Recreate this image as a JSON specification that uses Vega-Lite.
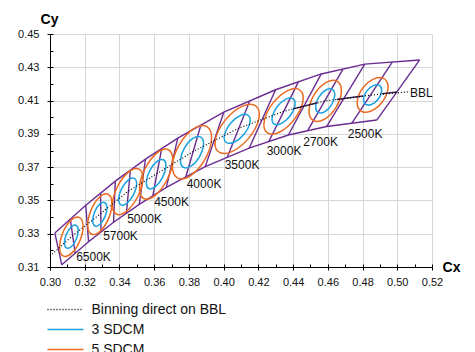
{
  "$schema": "https://vega.github.io/schema/vega-lite/v6.json",
  "width": 382,
  "height": 233,
  "autosize": {"type": "none"},
  "padding": {"left": 50, "top": 34, "right": 43, "bottom": 85},
  "background": "white",
  "config": {
    "view": {"stroke": null},
    "font": "Liberation Sans",
    "axis": {"labelFont": "Liberation Sans", "titleFont": "Liberation Sans"}
  },
  "datasets": {
    "quads": [
      {"s": "top", "i": 0, "x": 0.3028, "y": 0.3304}, {"s": "top", "i": 1, "x": 0.3206, "y": 0.3471}, {"s": "top", "i": 2, "x": 0.3376, "y": 0.3616}, {"s": "top", "i": 3, "x": 0.3550, "y": 0.3748}, {"s": "top", "i": 4, "x": 0.3736, "y": 0.3874},
      {"s": "top", "i": 5, "x": 0.4001, "y": 0.4030}, {"s": "top", "i": 6, "x": 0.4299, "y": 0.4165}, {"s": "top", "i": 7, "x": 0.4562, "y": 0.4260}, {"s": "top", "i": 8, "x": 0.4813, "y": 0.4319}, {"s": "top", "i": 9, "x": 0.5129, "y": 0.4344},
      {"s": "bot", "i": 0, "x": 0.3068, "y": 0.3113}, {"s": "bot", "i": 1, "x": 0.3222, "y": 0.3252}, {"s": "bot", "i": 2, "x": 0.3366, "y": 0.3369}, {"s": "bot", "i": 3, "x": 0.3514, "y": 0.3476}, {"s": "bot", "i": 4, "x": 0.3670, "y": 0.3578},
      {"s": "bot", "i": 5, "x": 0.3894, "y": 0.3703}, {"s": "bot", "i": 6, "x": 0.4147, "y": 0.3814}, {"s": "bot", "i": 7, "x": 0.4373, "y": 0.3893}, {"s": "bot", "i": 8, "x": 0.4593, "y": 0.3944}, {"s": "bot", "i": 9, "x": 0.4882, "y": 0.3983},
      {"s": "e0", "i": 0, "x": 0.3028, "y": 0.3304}, {"s": "e0", "i": 1, "x": 0.3068, "y": 0.3113},
      {"s": "e1", "i": 0, "x": 0.3206, "y": 0.3471}, {"s": "e1", "i": 1, "x": 0.3222, "y": 0.3252},
      {"s": "e2", "i": 0, "x": 0.3376, "y": 0.3616}, {"s": "e2", "i": 1, "x": 0.3366, "y": 0.3369},
      {"s": "e3", "i": 0, "x": 0.3550, "y": 0.3748}, {"s": "e3", "i": 1, "x": 0.3514, "y": 0.3476},
      {"s": "e4", "i": 0, "x": 0.3736, "y": 0.3874}, {"s": "e4", "i": 1, "x": 0.3670, "y": 0.3578},
      {"s": "e5", "i": 0, "x": 0.4001, "y": 0.4030}, {"s": "e5", "i": 1, "x": 0.3894, "y": 0.3703},
      {"s": "e6", "i": 0, "x": 0.4299, "y": 0.4165}, {"s": "e6", "i": 1, "x": 0.4147, "y": 0.3814},
      {"s": "e7", "i": 0, "x": 0.4562, "y": 0.4260}, {"s": "e7", "i": 1, "x": 0.4373, "y": 0.3893},
      {"s": "e8", "i": 0, "x": 0.4813, "y": 0.4319}, {"s": "e8", "i": 1, "x": 0.4593, "y": 0.3944},
      {"s": "e9", "i": 0, "x": 0.5129, "y": 0.4344}, {"s": "e9", "i": 1, "x": 0.4882, "y": 0.3983},
      {"s": "c0", "i": 0, "x": 0.3117, "y": 0.33875}, {"s": "c0", "i": 1, "x": 0.3145, "y": 0.31825},
      {"s": "c1", "i": 0, "x": 0.3291, "y": 0.35435}, {"s": "c1", "i": 1, "x": 0.3294, "y": 0.33105},
      {"s": "c2", "i": 0, "x": 0.3463, "y": 0.3682}, {"s": "c2", "i": 1, "x": 0.3440, "y": 0.34225},
      {"s": "c3", "i": 0, "x": 0.3643, "y": 0.3811}, {"s": "c3", "i": 1, "x": 0.3592, "y": 0.3527},
      {"s": "c4", "i": 0, "x": 0.38685, "y": 0.3952}, {"s": "c4", "i": 1, "x": 0.3782, "y": 0.36405},
      {"s": "c5", "i": 0, "x": 0.4150, "y": 0.40975}, {"s": "c5", "i": 1, "x": 0.40205, "y": 0.37585},
      {"s": "c6", "i": 0, "x": 0.44305, "y": 0.42125}, {"s": "c6", "i": 1, "x": 0.4260, "y": 0.38535},
      {"s": "c7", "i": 0, "x": 0.46875, "y": 0.42895}, {"s": "c7", "i": 1, "x": 0.4483, "y": 0.39185},
      {"s": "c8", "i": 0, "x": 0.4971, "y": 0.43315}, {"s": "c8", "i": 1, "x": 0.47375, "y": 0.39635}
    ],
    "ellipses": [
      {"cct": "6500K", "series": "3 SDCM", "x": 0.3123, "y": 0.3282, "a": 0.00724, "theta": 68, "ab": "0.45"},
      {"cct": "6500K", "series": "5 SDCM", "x": 0.3123, "y": 0.3282, "a": 0.0123, "theta": 68, "ab": "0.45"},
      {"cct": "5700K", "series": "3 SDCM", "x": 0.3287, "y": 0.3417, "a": 0.00747, "theta": 68, "ab": "0.45"},
      {"cct": "5700K", "series": "5 SDCM", "x": 0.3287, "y": 0.3417, "a": 0.0127, "theta": 68, "ab": "0.45"},
      {"cct": "5000K", "series": "3 SDCM", "x": 0.3447, "y": 0.3553, "a": 0.00871, "theta": 63, "ab": "0.45"},
      {"cct": "5000K", "series": "5 SDCM", "x": 0.3447, "y": 0.3553, "a": 0.0148, "theta": 63, "ab": "0.45"},
      {"cct": "4500K", "series": "3 SDCM", "x": 0.3611, "y": 0.3658, "a": 0.00947, "theta": 63, "ab": "0.45"},
      {"cct": "4500K", "series": "5 SDCM", "x": 0.3611, "y": 0.3658, "a": 0.0161, "theta": 63, "ab": "0.45"},
      {"cct": "4000K", "series": "3 SDCM", "x": 0.3818, "y": 0.3790, "a": 0.01024, "theta": 60, "ab": "0.50"},
      {"cct": "4000K", "series": "5 SDCM", "x": 0.3818, "y": 0.3790, "a": 0.0174, "theta": 60, "ab": "0.50"},
      {"cct": "3500K", "series": "3 SDCM", "x": 0.4078, "y": 0.3930, "a": 0.01024, "theta": 50, "ab": "0.50"},
      {"cct": "3500K", "series": "5 SDCM", "x": 0.4078, "y": 0.3930, "a": 0.0174, "theta": 50, "ab": "0.50"},
      {"cct": "3000K", "series": "3 SDCM", "x": 0.4345, "y": 0.4035, "a": 0.00929, "theta": 52, "ab": "0.50"},
      {"cct": "3000K", "series": "5 SDCM", "x": 0.4345, "y": 0.4035, "a": 0.0158, "theta": 52, "ab": "0.50"},
      {"cct": "2700K", "series": "3 SDCM", "x": 0.4585, "y": 0.4098, "a": 0.00794, "theta": 58, "ab": "0.55"},
      {"cct": "2700K", "series": "5 SDCM", "x": 0.4585, "y": 0.4098, "a": 0.0135, "theta": 58, "ab": "0.55"},
      {"cct": "2500K", "series": "3 SDCM", "x": 0.4858, "y": 0.4134, "a": 0.00688, "theta": 52, "ab": "0.60"},
      {"cct": "2500K", "series": "5 SDCM", "x": 0.4858, "y": 0.4134, "a": 0.0117, "theta": 52, "ab": "0.60"}
    ],
    "bbl": [
      {"series": "Binning direct on BBL", "i": 0, "x": 0.3000, "y": 0.3165},
      {"series": "Binning direct on BBL", "i": 1, "x": 0.3123, "y": 0.3282},
      {"series": "Binning direct on BBL", "i": 2, "x": 0.3287, "y": 0.3417},
      {"series": "Binning direct on BBL", "i": 3, "x": 0.3447, "y": 0.3553},
      {"series": "Binning direct on BBL", "i": 4, "x": 0.3611, "y": 0.3658},
      {"series": "Binning direct on BBL", "i": 5, "x": 0.3818, "y": 0.3790},
      {"series": "Binning direct on BBL", "i": 6, "x": 0.4078, "y": 0.3930},
      {"series": "Binning direct on BBL", "i": 7, "x": 0.4345, "y": 0.4035},
      {"series": "Binning direct on BBL", "i": 8, "x": 0.4585, "y": 0.4098},
      {"series": "Binning direct on BBL", "i": 9, "x": 0.4858, "y": 0.4134},
      {"series": "Binning direct on BBL", "i": 10, "x": 0.5074, "y": 0.4153}
    ],
    "solid": [
      {"s": "a", "i": 0, "x": 0.4400, "y": 0.4050}, {"s": "a", "i": 1, "x": 0.4540, "y": 0.4087},
      {"s": "b", "i": 0, "x": 0.4652, "y": 0.4107}, {"s": "b", "i": 1, "x": 0.4803, "y": 0.4127},
      {"s": "c", "i": 0, "x": 0.4912, "y": 0.4141}, {"s": "c", "i": 1, "x": 0.4999, "y": 0.4151}
    ],
    "labels": [
      {"label": "6500K", "x": 0.32506, "y": 0.3160},
      {"label": "5700K", "x": 0.34061, "y": 0.32876},
      {"label": "5000K", "x": 0.35444, "y": 0.33869},
      {"label": "4500K", "x": 0.36999, "y": 0.34892},
      {"label": "4000K", "x": 0.38871, "y": 0.36005},
      {"label": "3500K", "x": 0.4106, "y": 0.37148},
      {"label": "3000K", "x": 0.43479, "y": 0.3796},
      {"label": "2700K", "x": 0.45582, "y": 0.38532},
      {"label": "2500K", "x": 0.48145, "y": 0.39013}
    ],
    "bblLabel": [
      {"label": "BBL", "x": 0.50737, "y": 0.4148}
    ]
  },
  "layer": [
    {
      "data": {"name": "quads"},
      "mark": {"type": "line", "color": "#6b2c91", "strokeWidth": 1.4},
      "encoding": {
        "x": {"field": "x", "type": "quantitative", "scale": {"domain": [0.30, 0.52], "nice": false, "zero": false},
          "axis": {"title": "Cx", "values": [0.30, 0.32, 0.34, 0.36, 0.38, 0.40, 0.42, 0.44, 0.46, 0.48, 0.50, 0.52], "format": ".2f",
            "labelFlush": false, "labelOverlap": false,
            "tickSize": 3, "tickColor": "#000", "domainColor": "#000", "grid": true, "gridColor": "#d6d6d6",
            "labelFontSize": 11, "labelPadding": 6, "labelColor": "#111", "titleFontSize": 14, "titleFontWeight": "bold", "titleColor": "#000",
            "titleX": 401, "titleY": 0, "titleAlign": "center", "titleBaseline": "middle", "titleAngle": 0}},
        "y": {"field": "y", "type": "quantitative", "scale": {"domain": [0.31, 0.45], "nice": false, "zero": false},
          "axis": {"title": "Cy", "values": [0.31, 0.33, 0.35, 0.37, 0.39, 0.41, 0.43, 0.45], "format": ".2f",
            "labelFlush": false, "labelOverlap": false,
            "tickSize": 3, "tickColor": "#000", "domainColor": "#000", "grid": true, "gridColor": "#d6d6d6",
            "labelFontSize": 11, "labelPadding": 8, "labelColor": "#111", "titleFontSize": 14, "titleFontWeight": "bold", "titleColor": "#000",
            "titleX": -1, "titleY": -15, "titleAlign": "center", "titleBaseline": "middle", "titleAngle": 0}},
        "detail": {"field": "s", "type": "nominal"},
        "order": {"field": "i", "type": "quantitative"}
      }
    },
    {
      "data": {"name": "ellipses"},
      "mark": {"type": "point", "filled": false, "strokeWidth": 1.5, "opacity": 1},
      "encoding": {
        "x": {"field": "x", "type": "quantitative", "scale": {"domain": [0.30, 0.52], "nice": false, "zero": false},
          "axis": {"orient": "bottom", "values": [0.30, 0.31, 0.32, 0.33, 0.34, 0.35, 0.36, 0.37, 0.38, 0.39, 0.40, 0.41, 0.42, 0.43, 0.44, 0.45, 0.46, 0.47, 0.48, 0.49, 0.50, 0.51, 0.52],
            "tickSize": -3, "tickColor": "#000", "labels": false, "domain": false, "grid": false, "title": null}},
        "y": {"field": "y", "type": "quantitative", "scale": {"domain": [0.31, 0.45], "nice": false, "zero": false},
          "axis": {"orient": "left", "values": [0.31, 0.32, 0.33, 0.34, 0.35, 0.36, 0.37, 0.38, 0.39, 0.40, 0.41, 0.42, 0.43, 0.44, 0.45],
            "tickSize": -3, "tickColor": "#000", "labels": false, "domain": false, "grid": false, "title": null}},
        "stroke": {"field": "series", "type": "nominal", "scale": {"domain": ["3 SDCM", "5 SDCM"], "range": ["#1aa3e0", "#ea6a1f"]}, "legend": null},
        "size": {"field": "a", "type": "quantitative", "scale": {"type": "pow", "exponent": 2, "domain": [0, 0.02], "range": [0, 4624]}, "legend": null},
        "angle": {"field": "theta", "type": "quantitative", "scale": {"domain": [0, 90], "range": [360, 270]}},
        "shape": {"field": "ab", "type": "nominal", "legend": null, "scale": {"domain": ["0.45", "0.50", "0.55", "0.60"], "range": [
          "M1,0C1,0.2485 0.5523,0.45 0,0.45C-0.5523,0.45 -1,0.2485 -1,0C-1,-0.2485 -0.5523,-0.45 0,-0.45C0.5523,-0.45 1,-0.2485 1,0Z",
          "M1,0C1,0.2762 0.5523,0.5 0,0.5C-0.5523,0.5 -1,0.2762 -1,0C-1,-0.2762 -0.5523,-0.5 0,-0.5C0.5523,-0.5 1,-0.2762 1,0Z",
          "M1,0C1,0.3038 0.5523,0.55 0,0.55C-0.5523,0.55 -1,0.3038 -1,0C-1,-0.3038 -0.5523,-0.55 0,-0.55C0.5523,-0.55 1,-0.3038 1,0Z",
          "M1,0C1,0.3314 0.5523,0.6 0,0.6C-0.5523,0.6 -1,0.3314 -1,0C-1,-0.3314 -0.5523,-0.6 0,-0.6C0.5523,-0.6 1,-0.3314 1,0Z"]}}
      }
    },
    {
      "data": {"name": "solid"},
      "mark": {"type": "line", "color": "#3b2352", "strokeWidth": 1.5},
      "encoding": {
        "x": {"field": "x", "type": "quantitative", "scale": {"domain": [0.30, 0.52], "nice": false, "zero": false}, "axis": null},
        "y": {"field": "y", "type": "quantitative", "scale": {"domain": [0.31, 0.45], "nice": false, "zero": false}, "axis": null},
        "detail": {"field": "s", "type": "nominal"},
        "order": {"field": "i", "type": "quantitative"}
      }
    },
    {
      "data": {"name": "bbl"},
      "mark": {"type": "line", "strokeWidth": 1.2},
      "encoding": {
        "x": {"field": "x", "type": "quantitative", "scale": {"domain": [0.30, 0.52], "nice": false, "zero": false}, "axis": null},
        "y": {"field": "y", "type": "quantitative", "scale": {"domain": [0.31, 0.45], "nice": false, "zero": false}, "axis": null},
        "order": {"field": "i", "type": "quantitative"},
        "color": {"field": "series", "type": "nominal",
          "scale": {"domain": ["Binning direct on BBL", "3 SDCM", "5 SDCM"], "range": ["#000000", "#1aa3e0", "#ea6a1f"]},
          "legend": {"orient": "none", "legendX": -3.5, "legendY": 268.5, "title": null, "direction": "vertical",
            "symbolType": "M-1,0H5", "symbolSize": 144, "symbolStrokeWidth": 1.5, "labelOffset": 31, "labelFontSize": 14,
            "labelFont": "Liberation Sans", "labelColor": "#111", "rowPadding": 6, "padding": 0, "labelLimit": 300}},
        "strokeDash": {"field": "series", "type": "nominal",
          "scale": {"domain": ["Binning direct on BBL", "3 SDCM", "5 SDCM"], "range": [[1, 2], [1, 0], [1, 0]]},
          "legend": {"orient": "none", "legendX": -3.5, "legendY": 268.5, "title": null, "direction": "vertical",
            "symbolType": "M-1,0H5", "symbolSize": 144, "symbolStrokeWidth": 1.5, "labelOffset": 31, "labelFontSize": 14,
            "labelFont": "Liberation Sans", "labelColor": "#111", "rowPadding": 6, "padding": 0, "labelLimit": 300}}
      }
    },
    {
      "data": {"name": "labels"},
      "mark": {"type": "text", "fontSize": 12, "font": "Liberation Sans", "color": "#111", "align": "center", "baseline": "middle"},
      "encoding": {
        "x": {"field": "x", "type": "quantitative", "scale": {"domain": [0.30, 0.52], "nice": false, "zero": false}, "axis": null},
        "y": {"field": "y", "type": "quantitative", "scale": {"domain": [0.31, 0.45], "nice": false, "zero": false}, "axis": null},
        "text": {"field": "label", "type": "nominal"}
      }
    },
    {
      "data": {"name": "bblLabel"},
      "mark": {"type": "text", "fontSize": 12, "font": "Liberation Sans", "color": "#111", "align": "left", "baseline": "middle"},
      "encoding": {
        "x": {"field": "x", "type": "quantitative", "scale": {"domain": [0.30, 0.52], "nice": false, "zero": false}, "axis": null},
        "y": {"field": "y", "type": "quantitative", "scale": {"domain": [0.31, 0.45], "nice": false, "zero": false}, "axis": null},
        "text": {"field": "label", "type": "nominal"}
      }
    }
  ],
  "resolve": {"axis": {"x": "independent", "y": "independent"}}
}
